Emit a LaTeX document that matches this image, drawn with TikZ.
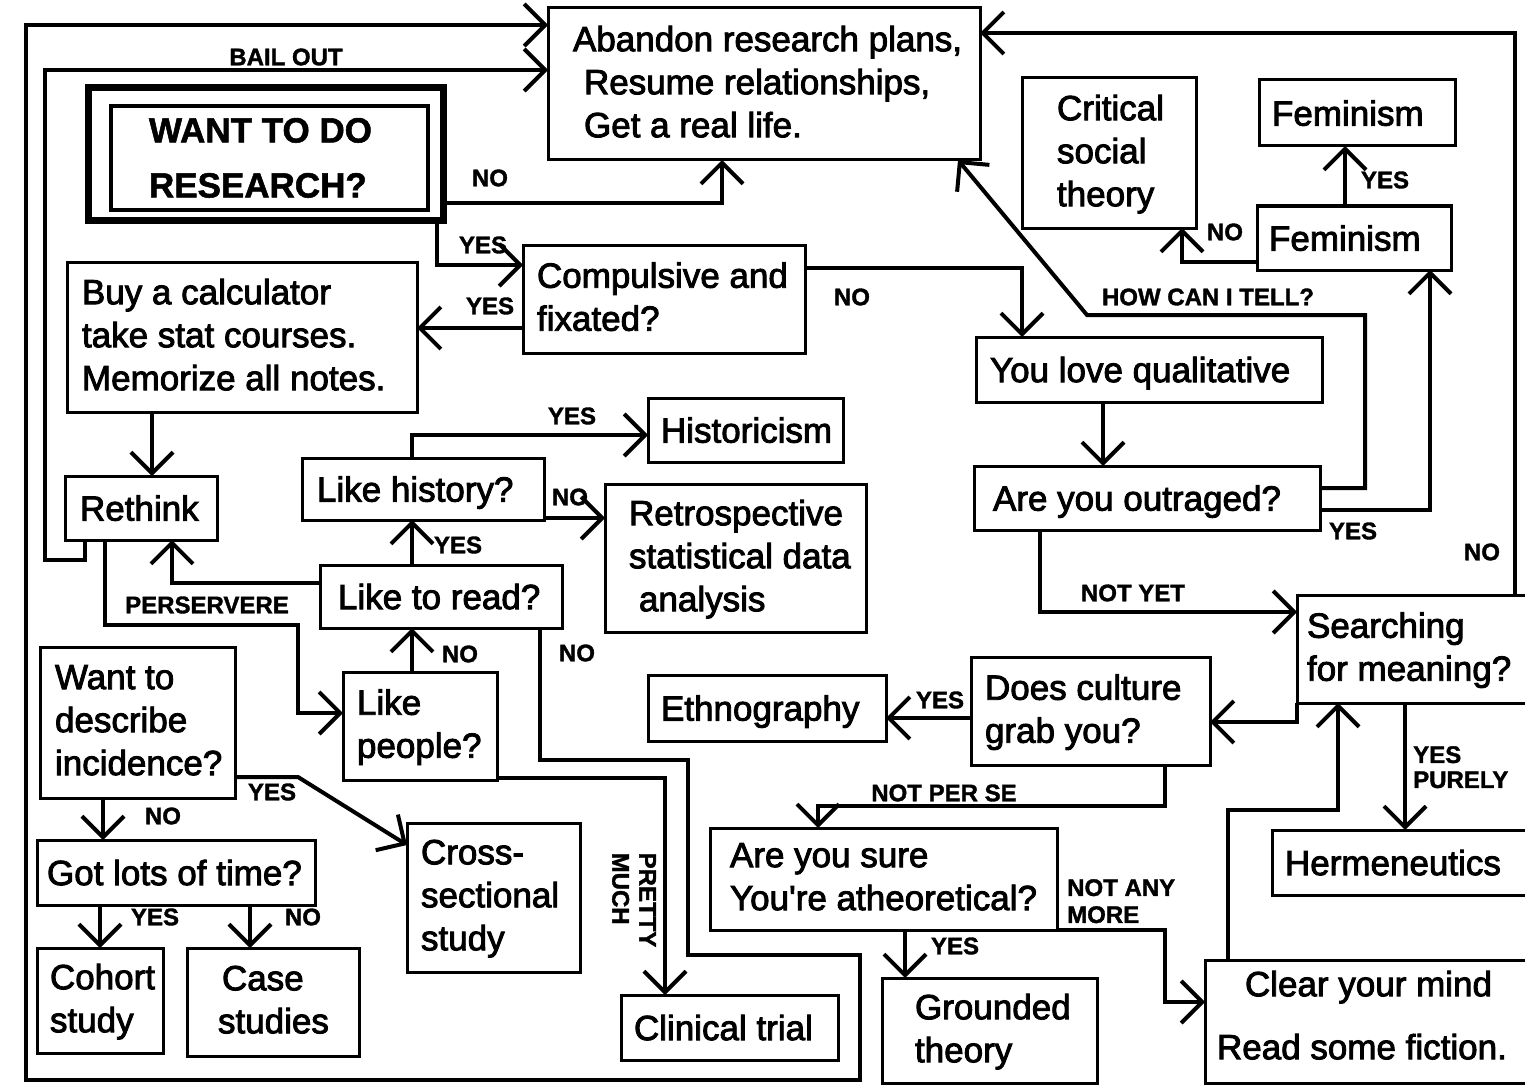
\documentclass[tikz,border=0pt]{standalone}
\usepackage{fontspec}
\setmainfont{Liberation Sans}
\newfontfamily\heavy[FakeBold=2.5]{Liberation Sans}
\newfontfamily\labfont[BoldFeatures={FakeBold=1.5}]{Liberation Sans}
\usetikzlibrary{arrows.meta}
\begin{document}
\begin{tikzpicture}[x=1pt,y=-1pt,
  bx/.style={draw, line width=3pt, rectangle, anchor=north west, inner sep=0pt, outer sep=0pt},
  btxt/.style={inner sep=0pt, outer sep=0pt, align=left, font=\heavy\fontsize{35}{43}\selectfont,
     execute at begin node=\strut, execute at end node=\strut},
  arr/.style={line width=4pt, -{Straight Barb[length=21pt,width=42pt]}},
  lab/.style={font=\labfont\bfseries\fontsize{24}{27}\selectfont, inner sep=0pt, align=left}]
\newcommand\drawbox[7]{%
  \pgfmathsetmacro\myBW{#4-#2}\pgfmathsetmacro\myBH{#5-#3}%
  \node[bx, minimum width=\myBW pt, minimum height=\myBH pt] (#1) at (#2,#3) {};
  \node[btxt, anchor=west] (#1-t) at ([xshift=#6 pt, yshift=-4pt]#1.west) {#7};}
\useasboundingbox (0,0) rectangle (1525,1086);
\fill[white] (0,0) rectangle (1525,1086);

% boxes
\drawbox{abandon}{548}{8}{980}{160}{25}{Abandon research plans,\\\hspace*{11pt}Resume relationships,\\\hspace*{11pt}Get a real life.}
\node[draw, line width=7pt, minimum width=355pt, minimum height=132pt, anchor=north west, inner sep=0pt, outer sep=0pt] (wantO) at (88,88) {};
\node[draw, line width=4pt, minimum width=317pt, minimum height=104pt, anchor=north west, inner sep=0pt, outer sep=0pt] (want) at (111,106) {};
\node[btxt, font=\labfont\bfseries\fontsize{35}{55}\selectfont, anchor=west] (want-t) at ([xshift=38pt, yshift=-8pt]want.west) {WANT TO DO\\RESEARCH?};
\drawbox{compulsive}{523}{245}{805}{353}{14}{Compulsive and\\fixated?}
\drawbox{buy}{67}{262}{417}{412}{15}{Buy a calculator\\take stat courses.\\Memorize all notes.}
\drawbox{rethink}{65}{476}{217}{540}{15}{Rethink}
\drawbox{likehist}{302}{458}{544}{520}{15}{Like history?}
\drawbox{likeread}{320}{565}{562}{628}{18}{Like to read?}
\drawbox{likepeople}{343}{672}{497}{780}{14}{Like\\people?}
\drawbox{hist}{648}{398}{843}{462}{13}{Historicism}
\drawbox{retro}{605}{484}{866}{632}{24}{Retrospective\\statistical data\\\hspace*{10pt}analysis}
\drawbox{wantdesc}{40}{647}{235}{798}{15}{Want to\\describe\\incidence?}
\drawbox{cross}{407}{823}{580}{972}{14}{Cross-\\sectional\\study}
\drawbox{gotlots}{37}{840}{315}{905}{10}{Got lots of time?}
\drawbox{cohort}{37}{948}{163}{1053}{13}{Cohort\\study}
\drawbox{case}{187}{948}{359}{1056}{31}{\hspace*{4pt}Case\\studies}
\drawbox{clinical}{621}{995}{838}{1060}{13}{Clinical trial}
\drawbox{youlove}{976}{337}{1322}{402}{14}{You love qualitative}
\drawbox{outraged}{974}{466}{1320}{530}{19}{Are you outraged?}
\drawbox{crit}{1022}{78}{1196}{228}{35}{Critical\\social\\theory}
\drawbox{femtop}{1259}{80}{1455}{146}{13}{Feminism}
\drawbox{fembot}{1257}{206}{1451}{270}{12}{Feminism}
\drawbox{searching}{1297}{595}{1535}{703}{10}{Searching\\for meaning?}
\drawbox{culture}{971}{657}{1210}{765}{14}{Does culture\\grab you?}
\drawbox{ethno}{648}{675}{886}{741}{13}{Ethnography}
\drawbox{sure}{710}{828}{1057}{930}{20}{Are you sure\\You\textquotesingle re atheoretical?}
\drawbox{grounded}{882}{978}{1097}{1083}{33}{Grounded\\theory}
\drawbox{herm}{1272}{830}{1535}{895}{13}{Hermeneutics}
\node[bx, minimum width=330pt, minimum height=123pt] (clear) at (1205,960) {};
\node[btxt, font=\heavy\fontsize{35}{63}\selectfont, anchor=west] (clear-t) at ([xshift=12pt, yshift=-3pt]clear.west) {\hspace*{28pt}Clear your mind\\Read some fiction.};

% connectors
\draw[arr] (wantO.east |- 0,203) -| (abandon.south -| 722,0);
\draw[arr] (wantO.south -| 437,0) |- (compulsive.west |- 0,265);
\draw[arr] (compulsive.west |- 0,328) -- (buy.east |- 0,328);
\draw[arr] (compulsive.east |- 0,268) -| (youlove.north -| 1022,0);
\draw[arr] (buy.south -| 152,0) -- (rethink.north -| 152,0);
\draw[arr] (rethink.south -| 85,0) -- (85,560) -- (45,560) |- (abandon.west |- 0,70);
\draw[arr] (rethink.south -| 105,0) |- (298,625) |- (likepeople.west |- 0,713);
\draw[arr] (likeread.west |- 0,583) -| (rethink.south -| 172,0);
\draw[arr] (likepeople.north -| 412,0) -- (likeread.south -| 412,0);
\draw[arr] (likeread.north -| 412,0) -- (likehist.south -| 412,0);
\draw[arr] (likehist.north -| 412,0) |- (hist.west |- 0,435);
\draw[arr] (likehist.east |- 0,518) -- (retro.west |- 0,518);
\draw[arr] (likeread.south -| 540,0) -- (540,760) -- (688,760) -- (688,955) -- (860,955) -- (860,1080) -- (26,1080) -- (26,25) -- (abandon.west |- 0,25);
\draw[arr] (likepeople.east |- 0,778) -| (clinical.north -| 665,0);
\draw[arr] (wantdesc.east |- 0,777) -- (298,777) -- (cross.west |- 0,845);
\draw[arr] (wantdesc.south -| 103,0) -- (gotlots.north -| 103,0);
\draw[arr] (gotlots.south -| 100,0) -- (cohort.north -| 100,0);
\draw[arr] (gotlots.south -| 250,0) -- (case.north -| 250,0);
\draw[arr] (youlove.south -| 1103,0) -- (outraged.north -| 1103,0);
\draw[arr] (outraged.east |- 0,488) -| (1365,315) -- (1087,315) -- (abandon.south -| 958,0);
\draw[arr] (outraged.east |- 0,510) -| (fembot.south -| 1430,0);
\draw[arr] (searching.north -| 1515,0) |- (abandon.east |- 0,33);
\draw[arr] (fembot.north -| 1345,0) -- (femtop.south -| 1345,0);
\draw[arr] (fembot.west |- 0,262) -| (crit.south -| 1182,0);
\draw[arr] (outraged.south -| 1040,0) |- (searching.west |- 0,612);
\draw[arr] (searching.south west) |- (culture.east |- 0,722);
\draw[arr] (culture.west |- 0,718) -- (ethno.east |- 0,718);
\draw[arr] (culture.south -| 1165,0) |- (818,806) -- (sure.north -| 818,0);
\draw[arr] (sure.south -| 905,0) -- (grounded.north -| 905,0);
\draw[arr] (sure.south east) -| (1165,1002) -- (clear.west |- 0,1002);
\draw[arr] (clear.north -| 1228,0) |- (1338,810) -- (searching.south -| 1338,0);
\draw[arr] (searching.south -| 1405,0) -- (herm.north -| 1405,0);

% labels
\node[lab] (l1) at (286,57) {BAIL OUT};
\node[lab] (l2) at (490,178) {NO};
\node[lab] (l3) at (483,245) {YES};
\node[lab] (l4) at (490,306) {YES};
\node[lab] (l5) at (852,297) {NO};
\node[lab] (l6) at (207,605) {PERSERVERE};
\node[lab] (l7) at (572,416) {YES};
\node[lab] (l8) at (570,497) {NO};
\node[lab] (l9) at (458,545) {YES};
\node[lab] (l10) at (460,654) {NO};
\node[lab] (l11) at (577,653) {NO};
\node[lab] (l12) at (272,792) {YES};
\node[lab] (l13) at (163,816) {NO};
\node[lab] (l14) at (155,917) {YES};
\node[lab] (l15) at (303,917) {NO};
\node[lab, rotate=-90] (l16) at (634,900) {PRETTY\\MUCH};
\node[lab] (l17) at (1208,297) {HOW CAN I TELL?};
\node[lab] (l18) at (1385,180) {YES};
\node[lab] (l19) at (1225,232) {NO};
\node[lab] (l20) at (1353,531) {YES};
\node[lab] (l21) at (1482,552) {NO};
\node[lab] (l22) at (1133,593) {NOT YET};
\node[lab] (l23) at (940,700) {YES};
\node[lab] (l24) at (944,793) {NOT PER SE};
\node[lab] (l25) at (955,946) {YES};
\node[lab, anchor=north west] (l26) at (1067,879) {NOT ANY\\MORE};
\node[lab, anchor=north west, font=\labfont\bfseries\fontsize{24}{25}\selectfont] (l27) at (1413,746) {YES\\PURELY};
\end{tikzpicture}
\end{document}
